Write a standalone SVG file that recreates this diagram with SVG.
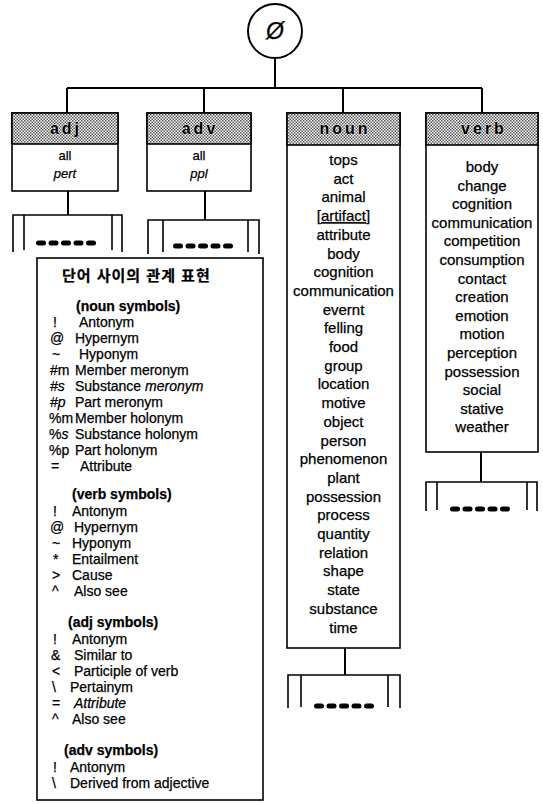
<svg xmlns="http://www.w3.org/2000/svg" width="543" height="804" viewBox="0 0 543 804">
<defs>
<pattern id="stip" width="3" height="3" patternUnits="userSpaceOnUse">
<rect width="3" height="3" fill="#fff"/>
<rect width="1.5" height="1.5" fill="#555"/>
<rect x="1.5" y="1.5" width="1.5" height="1.5" fill="#555"/>
</pattern>
<g id="dotrow">
<rect x="0" y="-2.5" width="10" height="5" rx="2.5"/>
<rect x="12.5" y="-2.5" width="10" height="5" rx="2.5"/>
<rect x="25" y="-2.5" width="10" height="5" rx="2.5"/>
<rect x="37.5" y="-2.5" width="10" height="5" rx="2.5"/>
<rect x="50" y="-2.5" width="10" height="5" rx="2.5"/>
</g>
</defs>
<style>
.box{fill:#fff;stroke:#000;stroke-width:1.6}
.hdr{fill:url(#stip);stroke:#000;stroke-width:1.6}
.ln{stroke:#000;stroke-width:2;fill:none}
.br{stroke:#000;stroke-width:1.6;fill:none}
text{font-family:"Liberation Sans",Arial,sans-serif;fill:#000;stroke:#000;stroke-width:0.25}
.ht{font-size:16px;font-weight:bold;letter-spacing:3px;text-anchor:middle;stroke:#fff;stroke-width:0.6;paint-order:stroke}
.it{font-size:15px;text-anchor:middle}
.sm{font-size:13px;text-anchor:middle}
.lg{font-size:14px}
.lh{font-size:14px;font-weight:bold}
.i{font-style:italic}
.kr{font-family:"Liberation Sans","Noto Sans CJK KR",sans-serif;font-size:15px;font-weight:bold;letter-spacing:1px}
</style>
<rect width="543" height="804" fill="#fff"/>

<g id="connectors">
<path class="ln" d="M275 58V88M67 88H482M67 88V113M204 88V113M343 88V113M482 88V113"/>
<path class="ln" d="M68 191V215M205 191V220M345 648V675M481 452V482"/>
</g>

<g id="root">
<circle cx="275" cy="31" r="27" fill="#fff" stroke="#000" stroke-width="2"/>
<text x="275" y="39" font-size="23" font-style="italic" text-anchor="middle">Ø</text>
</g>

<g id="adj">
<rect class="box" x="12" y="113" width="106" height="78"/>
<rect class="hdr" x="12" y="113" width="106" height="31"/>
<text class="ht" x="66" y="134">adj</text>
<text class="sm" x="65" y="160">all</text>
<text class="sm i" x="65" y="178">pert</text>
</g>

<g id="adv">
<rect class="box" x="147" y="113" width="104" height="78"/>
<rect class="hdr" x="147" y="113" width="104" height="31"/>
<text class="ht" x="200" y="134">adv</text>
<text class="sm" x="199" y="160">all</text>
<text class="sm i" x="199" y="178">ppl</text>
</g>

<g id="noun">
<rect class="box" x="287" y="113" width="113" height="535"/>
<rect class="hdr" x="287" y="113" width="113" height="32"/>
<text class="ht" x="345" y="134">noun</text>
<text class="it" x="343.5" y="165">tops</text>
<text class="it" x="343.5" y="183.7">act</text>
<text class="it" x="343.5" y="202.4">animal</text>
<text class="it" x="343.5" y="221.1" text-decoration="underline">[artifact]</text>
<text class="it" x="343.5" y="239.8">attribute</text>
<text class="it" x="343.5" y="258.5">body</text>
<text class="it" x="343.5" y="277.2">cognition</text>
<text class="it" x="343.5" y="295.9">communication</text>
<text class="it" x="343.5" y="314.6">evernt</text>
<text class="it" x="343.5" y="333.3">felling</text>
<text class="it" x="343.5" y="352">food</text>
<text class="it" x="343.5" y="370.7">group</text>
<text class="it" x="343.5" y="389.4">location</text>
<text class="it" x="343.5" y="408.1">motive</text>
<text class="it" x="343.5" y="426.8">object</text>
<text class="it" x="343.5" y="445.5">person</text>
<text class="it" x="343.5" y="464.2">phenomenon</text>
<text class="it" x="343.5" y="482.9">plant</text>
<text class="it" x="343.5" y="501.6">possession</text>
<text class="it" x="343.5" y="520.3">process</text>
<text class="it" x="343.5" y="539">quantity</text>
<text class="it" x="343.5" y="557.7">relation</text>
<text class="it" x="343.5" y="576.4">shape</text>
<text class="it" x="343.5" y="595.1">state</text>
<text class="it" x="343.5" y="613.8">substance</text>
<text class="it" x="343.5" y="632.5">time</text>
</g>

<g id="verb">
<rect class="box" x="426" y="113" width="112" height="339"/>
<rect class="hdr" x="426" y="113" width="112" height="32"/>
<text class="ht" x="484" y="134">verb</text>
<text class="it" x="482" y="172">body</text>
<text class="it" x="482" y="190.6">change</text>
<text class="it" x="482" y="209.2">cognition</text>
<text class="it" x="482" y="227.8">communication</text>
<text class="it" x="482" y="246.4">competition</text>
<text class="it" x="482" y="265">consumption</text>
<text class="it" x="482" y="283.6">contact</text>
<text class="it" x="482" y="302.2">creation</text>
<text class="it" x="482" y="320.8">emotion</text>
<text class="it" x="482" y="339.4">motion</text>
<text class="it" x="482" y="358">perception</text>
<text class="it" x="482" y="376.6">possession</text>
<text class="it" x="482" y="395.2">social</text>
<text class="it" x="482" y="413.8">stative</text>
<text class="it" x="482" y="432.4">weather</text>
</g>

<g id="adj-more">
<path class="br" d="M13 252V215H122V252M24 215V250M112 215V250"/>
<use href="#dotrow" x="36" y="243"/>
</g>
<g id="adv-more">
<path class="br" d="M148 254V220H259V254M163 220V252M248 220V252"/>
<use href="#dotrow" x="173" y="246"/>
</g>
<g id="noun-more">
<path class="br" d="M288 708V675H400V708M301 675V707M388 675V707"/>
<use href="#dotrow" x="314" y="706"/>
</g>
<g id="verb-more">
<path class="br" d="M426 511V482H537V511M437 482V510M527 482V510"/>
<use href="#dotrow" x="450" y="509"/>
</g>

<g id="legend">
<rect class="box" x="37" y="258" width="226" height="542"/>
<text class="kr" x="62" y="281">단어 사이의 관계 표현</text>
<text class="lh" x="76" y="311">(noun symbols)</text>
<text class="lg" x="53" y="327">!</text><text class="lg" x="79" y="327">Antonym</text>
<text class="lg" x="50" y="343">@</text><text class="lg" x="75" y="343">Hypernym</text>
<text class="lg" x="52" y="359">~</text><text class="lg" x="79" y="359">Hyponym</text>
<text class="lg" x="50" y="375">#m</text><text class="lg" x="75" y="375">Member meronym</text>
<text class="lg" x="50" y="391"><tspan class="i">#s</tspan></text><text class="lg" x="75" y="391">Substance <tspan class="i">meronym</tspan></text>
<text class="lg" x="50" y="407"><tspan class="i">#p</tspan></text><text class="lg" x="75" y="407">Part meronym</text>
<text class="lg" x="49" y="423">%m</text><text class="lg" x="75" y="423">Member holonym</text>
<text class="lg" x="49" y="439">%<tspan class="i">s</tspan></text><text class="lg" x="75" y="439">Substance holonym</text>
<text class="lg" x="49" y="455">%p</text><text class="lg" x="75" y="455">Part holonym</text>
<text class="lg" x="51" y="471">=</text><text class="lg" x="80" y="471">Attribute</text>
<text class="lh" x="72" y="499">(verb symbols)</text>
<text class="lg" x="53" y="516">!</text><text class="lg" x="72" y="516">Antonym</text>
<text class="lg" x="50" y="532">@</text><text class="lg" x="74" y="532">Hypernym</text>
<text class="lg" x="52" y="548">~</text><text class="lg" x="72" y="548">Hyponym</text>
<text class="lg" x="53" y="564">*</text><text class="lg" x="72" y="564">Entailment</text>
<text class="lg" x="52" y="580">&gt;</text><text class="lg" x="72" y="580">Cause</text>
<text class="lg" x="52" y="596">^</text><text class="lg" x="74" y="596">Also see</text>
<text class="lh" x="68" y="627">(adj symbols)</text>
<text class="lg" x="53" y="644">!</text><text class="lg" x="72" y="644">Antonym</text>
<text class="lg" x="51" y="660">&amp;</text><text class="lg" x="74" y="660">Similar to</text>
<text class="lg" x="52" y="676">&lt;</text><text class="lg" x="74" y="676">Participle of verb</text>
<text class="lg" x="52" y="692">\</text><text class="lg" x="70" y="692">Pertainym</text>
<text class="lg" x="52" y="708">=</text><text class="lg i" x="74" y="708">Attribute</text>
<text class="lg" x="52" y="724">^</text><text class="lg" x="72" y="724">Also see</text>
<text class="lh" x="64" y="755">(adv symbols)</text>
<text class="lg" x="53" y="772">!</text><text class="lg" x="70" y="772">Antonym</text>
<text class="lg" x="52" y="788">\</text><text class="lg" x="70" y="788">Derived from adjective</text>
</g>
</svg>
